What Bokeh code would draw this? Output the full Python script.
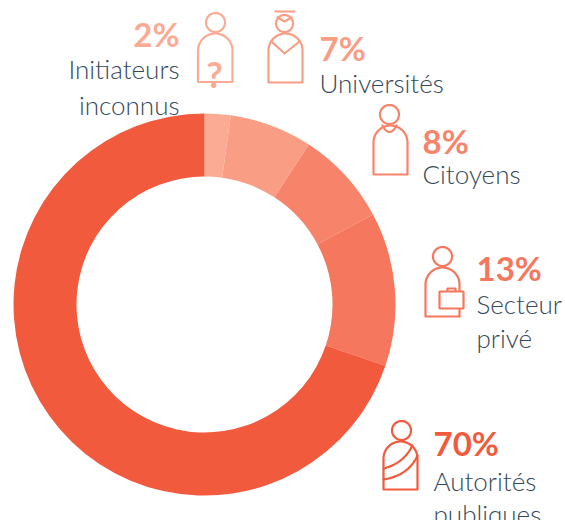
import numpy as np
from bokeh.plotting import figure
from bokeh.models import Range1d
from bokeh.core.properties import value
from bokeh.embed import file_html
from bokeh.resources import INLINE

categories = ["Initiateurs inconnus", "Universités", "Citoyens", "Secteur privé", "Autorités publiques"]
shares = [2.2, 7, 8, 13, 69.8]
pct_labels = ["2%", "7%", "8%", "13%", "70%"]
colors = ["#fbab94", "#f99d85", "#f7846a", "#f5775d", "#f25a3d"]
label_lines = [["Initiateurs", "inconnus"], ["Universités"], ["Citoyens"], ["Secteur", "privé"], ["Autorités", "publiques"]]

W, H = 565, 520
PCT_SIZE = "33px"
LBL_SIZE = "26px"
INK = "#34485a"
FONT = "Lato"
FONT_L = "Lato Light"


def Y(py):
    return H - py


p = figure(width=W, height=H, output_backend="svg", toolbar_location=None,
           x_range=Range1d(0, W), y_range=Range1d(0, H),
           min_border=0, background_fill_color="white", border_fill_color="white")
p.axis.visible = False
p.grid.visible = False
p.outline_line_color = None

cum = np.concatenate([[0], np.cumsum(shares)]) / np.sum(shares)
starts = np.pi / 2 - 2 * np.pi * cum[:-1]
ends = np.pi / 2 - 2 * np.pi * cum[1:]
p.annular_wedge(x=[204] * 5, y=[Y(304)] * 5, inner_radius=128, outer_radius=191,
                start_angle=starts, end_angle=ends, direction="clock",
                fill_color=colors, line_color=None)


def poly(xs, ys, c, w=2.2):
    p.line(list(xs), [Y(v) for v in ys], line_color=c, line_width=w, line_join="round", line_cap="round")


def head(cx, cy, r, c):
    t = np.linspace(0, 2 * np.pi, 60)
    poly(cx + r * np.cos(t), cy + r * np.sin(t), c)


def body(x0, x1, top, bottom, c, stop_right=None):
    r = (x1 - x0) / 2
    t = np.linspace(np.pi, 2 * np.pi, 40)
    xs = (x0 + x1) / 2 + r * np.cos(t)
    ys = top + r + r * np.sin(t)
    end = bottom if stop_right is None else stop_right
    poly([x1, x0, *xs, x1], [bottom, bottom, *ys, end], c)


def curve(a, b, ctrl, c):
    t = np.linspace(0, 1, 30)
    xs = (1 - t) ** 2 * a[0] + 2 * t * (1 - t) * ctrl[0] + t ** 2 * b[0]
    ys = (1 - t) ** 2 * a[1] + 2 * t * (1 - t) * ctrl[1] + t ** 2 * b[1]
    poly(xs, ys, c)


def txt(x, py, s, size, c, align="left", font=FONT_L, style="normal"):
    p.text(x=[x], y=[Y(py)], text=[s], text_font=value(font), text_font_size=size,
           text_font_style=style, text_color=c, text_align=align, text_baseline="alphabetic")


# icon 1: unknown initiators
c = colors[0]
head(215, 22, 9.5, c)
body(197.5, 232, 33, 81.5, c)
txt(214, 73, "?", "36px", c, align="center", font=FONT, style="bold")

# icon 2: universities
c = colors[1]
head(284, 23, 8.5, c)
body(268, 302, 33, 82, c)
poly([275, 294], [11, 11], c)
poly([277, 284, 291], [17, 21, 17], c)
poly([271, 284, 299], [41, 53, 41], c)

# icon 3: citizens
c = colors[2]
head(389, 114, 9.5, c)
body(373, 407, 125, 174, c)
curve((382, 125), (396, 125), (389, 138), c)

# icon 4: private sector
c = colors[3]
head(442, 256, 9.5, c)
body(425, 459, 267, 316, c, stop_right=291)
poly([459, 459], [308, 316], c)
p.quad(left=[439], right=[463], top=[Y(291)], bottom=[Y(308)], fill_color="white", line_color=c, line_width=2.2)
poly([447, 447, 455, 455], [290, 288, 288, 290], c)

# icon 5: public authorities
c = colors[4]
head(401, 430, 9.5, c)
body(383, 417, 441, 489, c)
curve((383, 468), (412, 445), (403, 463), c)
curve((383, 479), (417, 455), (408, 475), c)

# texts
for i, (x, align, py_pct, py_lines) in enumerate([
    (179, "right", 33, [68, 104]),
    (319, "left", 47, [82]),
    (422, "left", 140, [173]),
    (476, "left", 267, [303, 337]),
    (433, "left", 442, [480, 513]),
]):
    txt(x, py_pct, pct_labels[i], PCT_SIZE, colors[i], align=align, font=FONT, style="bold")
    for s, py in zip(label_lines[i], py_lines):
        txt(x, py, s, LBL_SIZE, INK, align=align)

open("out.html", "w").write(file_html(p, INLINE))
